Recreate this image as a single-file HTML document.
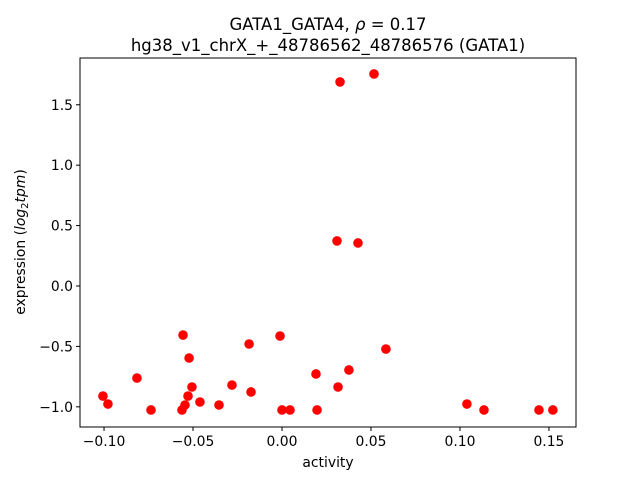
<!DOCTYPE html>
<html><head><meta charset="utf-8"><style>
html,body{margin:0;padding:0;background:#fff;}
svg{display:block;font-family:"DejaVu Sans","Liberation Sans",sans-serif;}
</style></head><body>
<svg id="chart" width="640" height="480">
<rect width="640" height="480" fill="#fff"/>
<text x="328" y="30" text-anchor="middle" font-size="16.5">GATA1_GATA4, <tspan font-style="italic">ρ</tspan> = 0.17</text>
<text x="328" y="51" text-anchor="middle" font-size="16.5">hg38_v1_chrX_+_48786562_48786576 (GATA1)</text>
<g id="xt"></g>
<g id="yt"></g>
<g id="pts"></g>
<rect x="80" y="58" width="496" height="369" fill="none" stroke="#000" stroke-width="1"/>
<text x="328" y="467" text-anchor="middle" font-size="13.9">activity</text>
<text transform="translate(25,242) rotate(-90)" text-anchor="middle" font-size="13.9">expression (<tspan font-style="italic">log</tspan><tspan font-size="10" dy="3">2</tspan><tspan dy="-3" font-style="italic">tpm</tspan>)</text>
</svg>
<script>
const xVals=[-0.1006,-0.0978,-0.0815,-0.0736,-0.0562,-0.0556,-0.0545,-0.0528,-0.0522,-0.0506,-0.0461,-0.0354,-0.0281,-0.0185,-0.0174,-0.0011,0.0,0.0045,0.0191,0.0197,0.0309,0.0315,0.0326,0.0376,0.0427,0.0517,0.0584,0.1039,0.1135,0.1444,0.1522];
const yVals=[-0.911,-0.977,-0.762,-1.026,-1.026,-0.406,-0.985,-0.911,-0.596,-0.836,-0.960,-0.985,-0.820,-0.480,-0.877,-0.414,-1.026,-1.026,-0.728,-1.026,0.373,-0.836,1.689,-0.695,0.356,1.755,-0.522,-0.977,-1.026,-1.026,-1.026];
const xTicks=[-0.10,-0.05,0.00,0.05,0.10,0.15];
const xTickLabels=["\u22120.10","\u22120.05","0.00","0.05","0.10","0.15"];
const yTicks=[-1.0,-0.5,0.0,0.5,1.0,1.5];
const yTickLabels=["\u22121.0","\u22120.5","0.0","0.5","1.0","1.5"];
const NS="http://www.w3.org/2000/svg";
const L=80,R=576,T=58,B=427;
const xMin=-0.1135,xMax=0.1652,yMin=-1.167,yMax=1.887;
const sx=v=>L+(v-xMin)/(xMax-xMin)*(R-L);
const sy=v=>B-(v-yMin)/(yMax-yMin)*(B-T);
function mk(tag,attrs){const e=document.createElementNS(NS,tag);for(const k in attrs)e.setAttribute(k,attrs[k]);return e;}
const xt=document.getElementById('xt'),yt=document.getElementById('yt'),pts=document.getElementById('pts');
xTicks.forEach((v,i)=>{const x=sx(v);
 const l=mk('line',{x1:x,x2:x,y1:B,y2:B+4,stroke:'#000'});
 
 
 xt.appendChild(l);
 const t=mk('text',{x:x,y:B+19,'text-anchor':'middle','font-size':'13.9'});t.textContent=xTickLabels[i];
 
 
 xt.appendChild(t);});
yTicks.forEach((v,i)=>{const y=sy(v);
 const l=mk('line',{x1:L-4,x2:L,y1:y,y2:y,stroke:'#000'});
 
 
 yt.appendChild(l);
 const t=mk('text',{x:L-7,y:y+5,'text-anchor':'end','font-size':'13.9'});t.textContent=yTickLabels[i];
 
 
 yt.appendChild(t);});
xVals.forEach((v,i)=>{
 const c=mk('circle',{cx:sx(v),cy:sy(yVals[i]),r:4.8,fill:'#ff0000'});
 
 
 pts.appendChild(c);});
</script>
</body></html>
